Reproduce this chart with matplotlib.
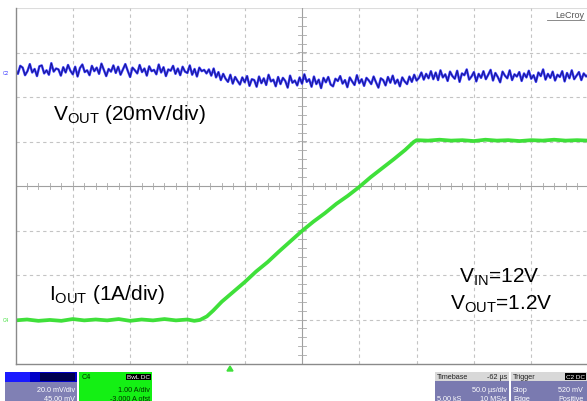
import numpy as np
import matplotlib
matplotlib.use("Agg")
import matplotlib.pyplot as plt
from matplotlib.patches import Rectangle, Polygon

plt.rcParams['font.family'] = ['Liberation Sans', 'DejaVu Sans']
plt.rcParams['mathtext.fontset'] = 'custom'
plt.rcParams['mathtext.rm'] = 'Liberation Sans'
plt.rcParams['mathtext.it'] = 'Liberation Sans'

# ---------------- data (screen divisions) ----------------
# VOUT trace (C2, 20 mV/div), sampled evenly across 10 horizontal divisions
vout_div = [
    2.61, 2.52, 2.70, 2.66, 2.49, 2.58, 2.74, 2.55, 2.63, 2.47, 2.69, 2.71, 2.53, 2.60, 2.50, 2.76, 2.57, 2.64, 2.62, 2.48,
    2.67, 2.55, 2.72, 2.59, 2.51, 2.68, 2.46, 2.65, 2.73, 2.56, 2.60, 2.49, 2.70, 2.58, 2.66, 2.52, 2.75, 2.61, 2.47, 2.63,
    2.57, 2.71, 2.54, 2.68, 2.50, 2.62, 2.74, 2.59, 2.45, 2.66, 2.60, 2.53, 2.72, 2.56, 2.64, 2.48, 2.69, 2.58, 2.61, 2.51,
    2.73, 2.55, 2.67, 2.47, 2.62, 2.59, 2.70, 2.52, 2.64, 2.49, 2.68, 2.57, 2.54, 2.71, 2.50, 2.63, 2.46, 2.66, 2.58, 2.61,
    2.53, 2.62,
    2.48, 2.64, 2.44, 2.56, 2.38, 2.52, 2.41, 2.34, 2.50, 2.30, 2.45, 2.36,
    2.28, 2.44, 2.33, 2.47, 2.25, 2.40, 2.38, 2.23, 2.46, 2.31, 2.42, 2.27, 2.50, 2.35, 2.39, 2.24, 2.45, 2.29, 2.43, 2.36,
    2.21, 2.48, 2.32, 2.37, 2.26, 2.44, 2.30, 2.51, 2.34, 2.40, 2.23, 2.46, 2.29, 2.39, 2.20, 2.43, 2.33, 2.45, 2.28, 2.24,
    2.41, 2.36, 2.47, 2.30, 2.38, 2.22, 2.44, 2.35, 2.27, 2.49, 2.31, 2.40, 2.25, 2.43, 2.37, 2.29, 2.46, 2.33, 2.21, 2.42,
    2.38, 2.26, 2.45, 2.32, 2.48, 2.30, 2.39, 2.24, 2.44, 2.35,
    2.29, 2.46, 2.34, 2.50, 2.37, 2.43, 2.55, 2.39, 2.52, 2.42, 2.58, 2.40,
    2.55, 2.38, 2.60, 2.44, 2.51, 2.36, 2.57, 2.47, 2.41, 2.59, 2.34, 2.53, 2.49, 2.62, 2.39, 2.46, 2.56, 2.35, 2.52, 2.43,
    2.58, 2.40, 2.50, 2.61, 2.37, 2.54, 2.45, 2.33, 2.57, 2.48, 2.42, 2.60, 2.38, 2.51, 2.46, 2.56, 2.36, 2.53, 2.44, 2.59,
    2.41, 2.49, 2.34, 2.55, 2.47, 2.62, 2.39, 2.52, 2.43, 2.57, 2.37, 2.50, 2.45, 2.58, 2.35, 2.54, 2.42, 2.60, 2.40, 2.48,
    2.56, 2.38, 2.53, 2.46, 2.51,
]

# IOUT trace (C4, 1 A/div)
iout_t = [0.0, 0.2, 0.4, 0.6, 0.8, 1.0, 1.2, 1.4, 1.6, 1.8, 2.0, 2.2, 2.4, 2.6, 2.8, 3.0,
          3.12, 3.22, 3.34, 3.45, 3.60, 3.80, 4.00, 4.20, 4.40, 4.60, 4.80, 5.00, 5.20, 5.40,
          5.60, 5.80, 6.00, 6.20, 6.40, 6.60, 6.80, 6.95, 7.00, 7.2, 7.4, 7.6, 7.8, 8.0, 8.2,
          8.4, 8.6, 8.8, 9.0, 9.2, 9.4, 9.6, 9.8, 10.0]
iout_div = [-3.02, -3.00, -3.03, -3.01, -3.03, -2.99, -3.02, -3.00, -3.02, -2.99, -3.03, -3.00,
            -3.02, -2.99, -3.02, -3.00, -3.03, -3.01, -2.93, -2.80, -2.60, -2.38, -2.16, -1.92,
            -1.71, -1.47, -1.24, -1.01, -0.80, -0.61, -0.40, -0.22, -0.02, 0.20, 0.40, 0.60,
            0.81, 0.99, 1.03, 1.02, 1.04, 1.02, 1.03, 1.01, 1.04, 1.02, 1.03, 1.01, 1.03, 1.02,
            1.04, 1.02, 1.03, 1.02]

labels = {
    "vout": r"V$_{\mathrm{OUT}}$ (20mV/div)",
    "iout": r"I$_{\mathrm{OUT}}$ (1A/div)",
    "vin": r"V$_{\mathrm{IN}}$=12V",
    "vout2": r"V$_{\mathrm{OUT}}$=1.2V",
}

# ---------------- figure ----------------
W, H = 587, 402
fig = plt.figure(figsize=(W / 100, H / 100), dpi=100)
fig.patch.set_facecolor('white')

def fx(px):
    return px / W

def fy(py):
    return 1 - py / H

left_px, right_px, top_px, bot_px = 15.5, 588.5, 9.0, 365.0
ax = fig.add_axes([fx(left_px), fy(bot_px), fx(right_px - left_px), (bot_px - top_px) / H])
ax.set_xlim(0, 10)
ax.set_ylim(-4, 4)
ax.set_facecolor('white')
ax.set_xticks([])
ax.set_yticks([])
for s in ['top', 'right']:
    ax.spines[s].set_visible(False)
for s in ['left', 'bottom']:
    ax.spines[s].set_color('#8a8a8a')
    ax.spines[s].set_linewidth(1.0)
ax.axhline(4, color='#dcdcdc', lw=0.8)

grid_c = '#c4c4c4'
for i in range(1, 10):
    if i != 5:
        ax.axvline(i, color=grid_c, lw=0.8, ls=(0, (3, 3)))
for j in range(-3, 4):
    if j != 0:
        ax.axhline(j, color=grid_c, lw=0.8, ls=(0, (3, 3)))
ax.axvline(5, color='#a0a0a0', lw=0.8)
ax.axhline(0, color='#a0a0a0', lw=0.8)
# minor tick marks on the center cross
for k in np.arange(0.2, 10, 0.2):
    ax.plot([k, k], [-0.06, 0.06], color='#a8a8a8', lw=0.6)
for k in np.arange(-3.8, 4, 0.2):
    ax.plot([4.93, 5.07], [k, k], color='#a8a8a8', lw=0.6)

def axpt(px, py):
    return ((px - left_px) / (right_px - left_px) * 10,
            4 - (py - top_px) / (bot_px - top_px) * 8)

# traces
t_blue = np.linspace(0, 10, len(vout_div))
ax.plot(t_blue, vout_div, color='#1f1fff', lw=1.7, alpha=0.9)
ax.plot(t_blue, vout_div, color='#16166a', lw=0.5)
ax.plot(iout_t, iout_div, color='#3fe03a', lw=2.7, solid_capstyle='butt', solid_joinstyle='round')

# annotations
fs = 15
x, y = axpt(53, 120)
ax.text(x, y, labels["vout"], fontsize=fs, color='black', va='baseline', ha='left')
x, y = axpt(49, 300)
ax.text(x, y, labels["iout"], fontsize=fs, color='black', va='baseline', ha='left')
x, y = axpt(499, 283)
ax.text(x, y, labels["vin"], fontsize=fs, color='black', va='baseline', ha='center')
x, y = axpt(501, 310)
ax.text(x, y, labels["vout2"], fontsize=fs, color='black', va='baseline', ha='center')

# channel markers at the left edge
fig.text(fx(3), fy(74), "C2", fontsize=3.5, color='#3a3aff', va='center', ha='left')
fig.text(fx(3), fy(321), "C4", fontsize=3.5, color='#3fe03a', va='center', ha='left')

# LeCroy logo
fig.text(fx(584), fy(16), "LeCroy", fontsize=6.5, color='#555555', ha='right', va='center')
fig.add_artist(plt.Line2D([fx(547), fx(584)], [fy(21), fy(21)], color='#777777', lw=0.6))

# trigger marker
fig.add_artist(Polygon([[fx(227), fy(372)], [fx(233), fy(372)], [fx(230), fy(367)]],
                       closed=True, color='#3fe03a', transform=fig.transFigure))

# ---------------- bottom info panels ----------------
def rect(x0, y0, x1, y1, color):
    fig.add_artist(Rectangle((fx(x0), fy(y1)), fx(x1 - x0), (y1 - y0) / H,
                             transform=fig.transFigure, color=color, lw=0))

def txt(px, py, s, color, ha='left', size=5.2, bg=None):
    kw = {}
    if bg:
        kw['bbox'] = dict(boxstyle='square,pad=0.1', fc=bg, ec='none')
    fig.text(fx(px), fy(py), s, fontsize=size, color=color, ha=ha, va='center', **kw)

# C2 panel
rect(5, 373, 77, 402, '#8080b4')
rect(5, 373, 77, 383, '#0000c8')
rect(5, 373, 30, 383, '#1a1aff')
rect(40, 374, 75, 382, '#000050')
txt(75, 390.5, "20.0 mV/div", 'white', ha='right')
txt(75, 399.5, "45.00 mV", 'white', ha='right')
# C4 panel
rect(79, 373, 152, 402, '#14f014')
txt(82, 378, "C4", '#003300')
txt(150, 378, "BwL DC", 'white', ha='right', size=4.6, bg='black')
txt(150, 390.5, "1.00 A/div", '#003300', ha='right')
txt(150, 399.5, "-3.000 A ofst", '#003300', ha='right')
# Timebase panel
rect(435, 373, 509, 402, '#7a7ab0')
rect(435, 373, 509, 382, '#d8d8d8')
txt(437, 377.5, "Timebase", '#222222')
txt(507, 377.5, "-62 \u00b5s", '#222222', ha='right')
txt(507, 390.5, "50.0 \u00b5s/div", 'white', ha='right')
txt(437, 399.5, "5.00 kS", 'white')
txt(507, 399.5, "10 MS/s", 'white', ha='right')
# Trigger panel
rect(511, 373, 590, 402, '#7a7ab0')
rect(511, 373, 590, 382, '#d8d8d8')
txt(513, 377.5, "Trigger", '#222222')
txt(566, 377.5, "C2 DC", 'white', size=4.6, bg='black')
txt(513, 390.5, "Stop", 'white')
txt(558, 390.5, "520 mV", 'white')
txt(513, 399.5, "Edge", 'white')
txt(558, 399.5, "Positive", 'white')

fig.savefig("out.png", dpi=100, facecolor='white')
